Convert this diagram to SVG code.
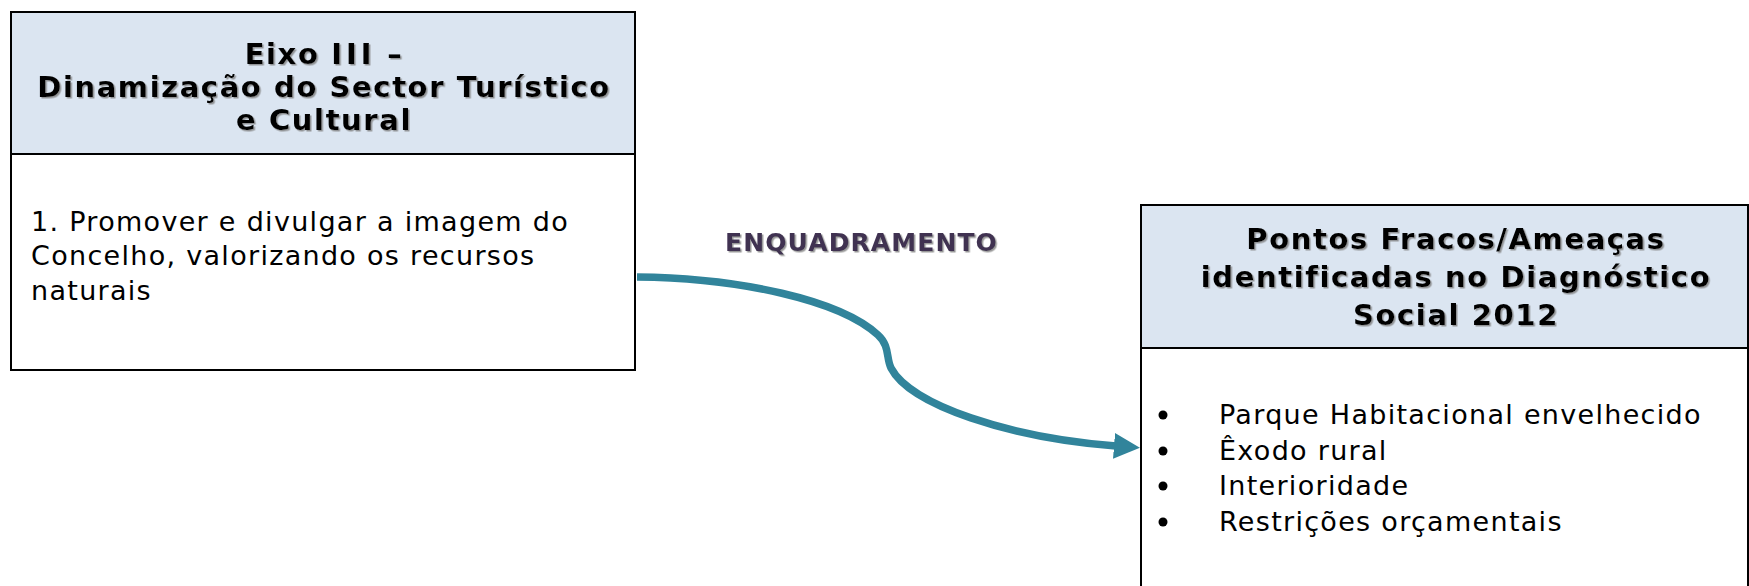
<svg xmlns="http://www.w3.org/2000/svg" width="1749" height="586" viewBox="0 0 1749 586">
<defs>
<style>
.box{fill:#ffffff;stroke:#000000;stroke-width:2}
.hdr{fill:#dbe5f1;stroke:#000000;stroke-width:2}
.title{font-family:"DejaVu Sans",Verdana,sans-serif;font-weight:bold;font-size:29px;letter-spacing:1.6px;fill:#000000;text-anchor:middle}
.body{font-family:"DejaVu Sans",Verdana,sans-serif;font-size:27px;letter-spacing:1.3px;fill:#000000}
.lbl{font-family:"DejaVu Sans",Verdana,sans-serif;font-weight:bold;font-size:25px;letter-spacing:1.1px;fill:#3f3151}
.conn{fill:none;stroke:#31849b;stroke-width:7.5}
</style>
<filter id="sh" x="-5%" y="-20%" width="110%" height="140%">
<feDropShadow dx="1.5" dy="1.5" stdDeviation="0.7" flood-color="#808080" flood-opacity="0.8"/>
</filter>
<marker id="ah" markerUnits="userSpaceOnUse" markerWidth="28" markerHeight="30" refX="2" refY="15" orient="auto">
<path d="M0,2 L26,15 L0,28 Z" fill="#31849b"/>
</marker>
</defs>
<g id="connectors">
<path class="conn" d="M 637 277 C 740 278, 840 300, 878 335 C 890 346, 886 358, 891 368 C 910 405, 1010 438, 1116 446" marker-end="url(#ah)"/>
<text class="lbl" x="725" y="251" filter="url(#sh)">ENQUADRAMENTO</text>
</g>
<g id="node-eixo">
<rect class="box" x="11" y="12" width="624" height="358"/>
<rect class="hdr" x="11" y="12" width="624" height="142"/>
<g filter="url(#sh)">
<text class="title" x="324" y="64">Eixo <tspan letter-spacing="4px">III</tspan> –</text>
<text class="title" x="324" y="97">Dinamização do Sector Turístico</text>
<text class="title" x="324" y="130">e Cultural</text>
</g>
<text class="body" x="31" y="231">1. Promover e divulgar a imagem do</text>
<text class="body" x="31" y="265">Concelho, valorizando os recursos</text>
<text class="body" x="31" y="300">naturais</text>
</g>
<g id="node-pontos">
<rect class="box" x="1141" y="205" width="607" height="400"/>
<rect class="hdr" x="1141" y="205" width="607" height="143"/>
<g filter="url(#sh)">
<text class="title" x="1456" y="249">Pontos Fracos/Ameaças</text>
<text class="title" x="1456" y="287">identificadas no Diagnóstico</text>
<text class="title" x="1456" y="325">Social 2012</text>
</g>
<circle cx="1163" cy="415" r="4.5" fill="#000"/>
<circle cx="1163" cy="451" r="4.5" fill="#000"/>
<circle cx="1163" cy="486" r="4.5" fill="#000"/>
<circle cx="1163" cy="522" r="4.5" fill="#000"/>
<text class="body" x="1219" y="424">Parque Habitacional envelhecido</text>
<text class="body" x="1219" y="460">Êxodo rural</text>
<text class="body" x="1219" y="495">Interioridade</text>
<text class="body" x="1219" y="531">Restrições orçamentais</text>
</g>
</svg>
